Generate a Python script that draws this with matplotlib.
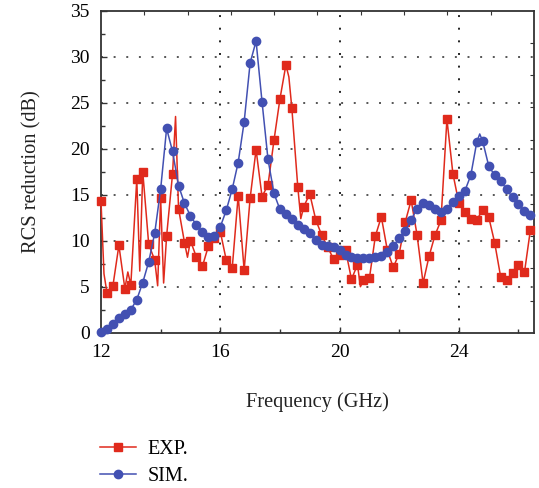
import numpy as np
import matplotlib
matplotlib.use("Agg")
import matplotlib.pyplot as plt

plt.rcParams["font.family"] = ["Liberation Serif", "DejaVu Serif"]

# measured RCS reduction (dB) vs frequency (GHz); odd 0.1-GHz points are line-only
exp_freq = [12.0, 12.1, 12.2, 12.4, 12.6, 12.8, 12.9, 13.0, 13.2, 13.3, 13.4, 13.6,
            13.8, 13.9, 14.0, 14.1, 14.2, 14.4, 14.5, 14.6, 14.8, 14.9, 15.0, 15.2,
            15.4, 15.6, 15.8, 16.0, 16.2, 16.4, 16.6, 16.8, 17.0, 17.2, 17.4, 17.6,
            17.8, 18.0, 18.2, 18.3, 18.4, 18.6, 18.7, 18.8, 19.0, 19.2, 19.4, 19.6,
            19.8, 20.0, 20.2, 20.4, 20.6, 20.7, 20.8, 21.0, 21.2, 21.4, 21.6, 21.8,
            22.0, 22.2, 22.4, 22.6, 22.8, 23.0, 23.2, 23.4, 23.6, 23.8, 24.0, 24.2,
            24.4, 24.6, 24.8, 25.0, 25.2, 25.4, 25.6, 25.8, 26.0, 26.2, 26.4]
exp_val = [14.3, 6.4, 4.35, 5.1, 9.5, 4.8, 6.6, 5.2, 16.7, 6.7, 17.5, 9.6,
           7.9, 5.1, 14.6, 5.4, 10.5, 17.3, 23.5, 13.5, 9.8, 8.2, 10.0, 8.2,
           7.2, 9.4, 10.3, 11.0, 7.9, 7.0, 14.9, 6.8, 14.6, 19.9, 14.8, 16.05,
           20.9, 25.4, 29.1, 27.8, 24.4, 15.8, 12.4, 13.7, 15.1, 12.3, 10.6, 9.3,
           8.0, 8.5, 9.0, 5.8, 7.4, 5.0, 5.7, 5.9, 10.5, 12.6, 9.0, 7.1,
           8.6, 12.0, 14.4, 10.6, 5.4, 8.3, 10.6, 12.2, 23.2, 17.3, 14.1, 13.1,
           12.4, 12.3, 13.3, 12.6, 9.8, 6.1, 5.7, 6.45, 7.4, 6.56, 11.2]

# simulated RCS reduction (dB)
sim_freq = [12.0, 12.2, 12.4, 12.6, 12.8, 13.0, 13.2, 13.4, 13.6, 13.8, 14.0, 14.2,
            14.4, 14.6, 14.8, 15.0, 15.2, 15.4, 15.6, 15.8, 16.0, 16.2, 16.4, 16.6,
            16.8, 17.0, 17.2, 17.4, 17.6, 17.8, 18.0, 18.2, 18.4, 18.6, 18.8, 19.0,
            19.2, 19.4, 19.6, 19.8, 20.0, 20.2, 20.4, 20.6, 20.8, 21.0, 21.2, 21.4,
            21.6, 21.8, 22.0, 22.2, 22.4, 22.6, 22.8, 23.0, 23.2, 23.4, 23.6, 23.8,
            24.0, 24.2, 24.4, 24.6, 24.7, 24.8, 25.0, 25.2, 25.4, 25.6, 25.8, 26.0,
            26.2, 26.4]
sim_val = [0.1, 0.45, 1.0, 1.65, 2.0, 2.5, 3.6, 5.45, 7.7, 10.8, 15.6, 22.2,
           19.7, 16.0, 14.05, 12.7, 11.7, 10.9, 10.4, 10.5, 11.5, 13.3, 15.6, 18.5,
           22.9, 29.3, 31.7, 25.1, 18.85, 15.15, 13.4, 12.9, 12.35, 11.7, 11.25, 10.8,
           10.1, 9.5, 9.4, 9.35, 8.95, 8.5, 8.26, 8.15, 8.15, 8.15, 8.2, 8.3,
           8.75, 9.42, 10.26, 11.1, 12.25, 13.5, 14.06, 13.9, 13.5, 13.1, 13.45, 14.2,
           14.9, 15.4, 17.1, 20.7, 21.6, 20.8, 18.15, 17.1, 16.5, 15.6, 14.7, 14.0,
           13.2, 12.8]


def marked(freq):
    f = np.asarray(freq)
    k = (f - 12.0) / 0.2
    return list(np.where(np.isclose(k, np.round(k)))[0])


red = "#e02a1c"
blue = "#4250b2"

fig = plt.figure(figsize=(5.39, 4.88), dpi=100)
ax = fig.add_axes([101 / 539, 1 - 332.7 / 488, 433 / 539, 322 / 488])

ax.plot(exp_freq, exp_val, color=red, lw=1.1, marker="s", ms=5.5,
        markevery=marked(exp_freq), label="EXP.", clip_on=False, zorder=3)
ax.plot(sim_freq, sim_val, color=blue, lw=1.1, marker="o", ms=6,
        markevery=marked(sim_freq), label="SIM.", clip_on=False, zorder=4)

ax.set_xlim(12, 26.52)
ax.set_ylim(0, 35)
ax.set_xticks([12, 16, 20, 24])
ax.set_xticks([14, 18, 22, 26], minor=True)
ax.set_yticks(np.arange(0, 36, 5))
ax.set_yticks(np.arange(2.5, 35, 5), minor=True)
ax.tick_params(which="both", direction="in", labelsize=14, color="#333333")
ax.tick_params(which="major", length=4, width=1)
ax.tick_params(which="minor", length=3, width=1)
ax.tick_params(axis="x", pad=8)
ax.tick_params(axis="y", pad=8)

for y in range(5, 35, 5):
    ax.axhline(y, color="#555555", lw=1.4, ls=(0, (1, 5.5)), zorder=1)
for x in (16, 20, 24):
    ax.axvline(x, color="#222222", lw=1.4, ls=(0, (1, 5.5)), zorder=1)

for s in ax.spines.values():
    s.set_linewidth(1.3)
    s.set_color("#333333")

# frame ticks on top and right edges
top = ax.secondary_xaxis("top")
top.set_xticks(np.linspace(12, 26.52, 11)[1:-1])
top.set_xticklabels([])
top.tick_params(direction="in", length=3, color="#333333")
top.spines["top"].set_visible(False)
right = ax.secondary_yaxis("right")
right.set_yticks(np.linspace(0, 35, 11)[1:-1])
right.set_yticklabels([])
right.tick_params(direction="in", length=3, color="#333333")
right.spines["right"].set_visible(False)

ax.set_xlabel("Frequency (GHz)", fontsize=14.7, labelpad=23, color="#222222")
ax.set_ylabel("RCS reduction (dB)", fontsize=14.7, labelpad=21, color="#222222")

fig.legend(loc="upper left", bbox_to_anchor=(92 / 539, 1 - 432 / 488),
           frameon=False, fontsize=14.5, handlelength=1.8, handletextpad=0.55,
           labelspacing=0.4, borderaxespad=0)

fig.savefig("out.png", dpi=100)
